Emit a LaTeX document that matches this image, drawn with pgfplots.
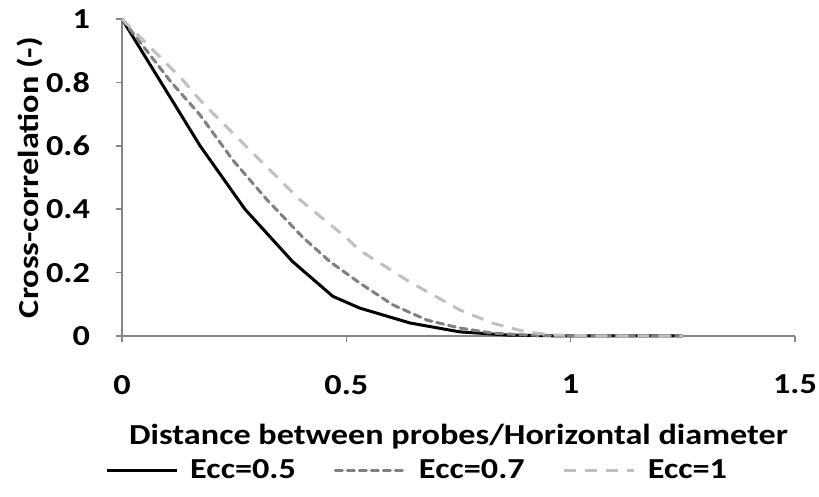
\documentclass[border=0pt]{standalone}
\usepackage{fontspec}
\setmainfont{Carlito}[FakeStretch=1.18]
\usepackage{pgfplots}
\pgfplotsset{compat=1.18}
\usetikzlibrary{calc}

\definecolor{axgray}{RGB}{134,134,134}
\definecolor{darkg}{RGB}{128,128,128}
\definecolor{lightg}{RGB}{192,192,192}

\begin{document}
\begin{tikzpicture}[font=\fontsize{14.5}{16}\selectfont\bfseries]
\begin{axis}[
    name=ax,
    scale only axis,
    width=336.5pt, height=158.5pt,
    xmin=0, xmax=1.5, ymin=0, ymax=1,
    xtick={0,0.5,1,1.5},
    ytick={0,0.2,0.4,0.6,0.8,1},
    axis lines*=left,
    axis line style={axgray, line width=0.8pt},
    tick style={axgray, line width=0.8pt},
    tick align=outside,
    major tick length=3pt,
    /pgf/number format/assume math mode=true,
    xticklabel style={anchor=north, yshift=-13pt},
    yticklabel style={anchor=east, xshift=-9.5pt},
    xlabel={Distance between probes/Horizontal diameter},
    ylabel={Cross-correlation (-)},
    xlabel style={at={(axis description cs:0.5,-0.318)}, anchor=center},
    ylabel style={at={(axis description cs:-0.137,0.5)}, anchor=center},
    legend columns=3,
    legend style={draw=none, fill=none, inner sep=0pt,
        at={(axis description cs:0.44,-0.425)}, anchor=center,
        /tikz/every odd column/.append style={column sep=4pt},
        /tikz/every even column/.append style={column sep=17pt}},
    legend image code/.code={\draw[#1] (0pt,0pt) -- (35pt,0pt);},
    clip=false,
]
\addplot[black, line width=1.5pt] coordinates {
    (0,1) (0.087,0.80) (0.174,0.60) (0.274,0.40) (0.38,0.235) (0.47,0.125)
    (0.53,0.088) (0.642,0.041) (0.753,0.013) (0.86,0.003) (0.97,0.0005)
    (1.07,0) (1.16,0) (1.25,0)
};
\addlegendentry{Ecc=0.5}
\addplot[darkg, line width=1.5pt, dash pattern=on 3.5pt off 2.5pt, line cap=round] coordinates {
    (0,1) (0.11,0.80) (0.174,0.697) (0.247,0.555) (0.323,0.43) (0.404,0.31)
    (0.464,0.234) (0.53,0.167) (0.604,0.098) (0.68,0.050) (0.753,0.025)
    (0.827,0.009) (0.9,0.003) (0.97,0.001) (1.07,0) (1.16,0) (1.25,0)
};
\addlegendentry{Ecc=0.7}
\addplot[lightg, line width=1.5pt, dash pattern=on 6pt off 4.5pt] coordinates {
    (0,1) (0.134,0.81) (0.174,0.744) (0.247,0.64) (0.323,0.533) (0.397,0.429)
    (0.5,0.31) (0.53,0.27) (0.642,0.17) (0.753,0.082) (0.827,0.04) (0.9,0.013)
    (0.96,0.003) (1.07,0) (1.16,0) (1.25,0)
};
\addlegendentry{Ecc=1}
\end{axis}
\pgfresetboundingbox
\path ($(ax.south west)+(-61pt,-80.5pt)$) rectangle ($(ax.north east)+(12pt,9.5pt)$);
\end{tikzpicture}
\end{document}
